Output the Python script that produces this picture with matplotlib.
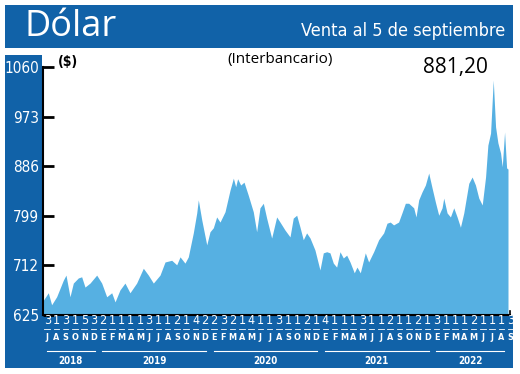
import matplotlib
matplotlib.use("Agg")
import matplotlib.pyplot as plt
from matplotlib.patches import Rectangle
from matplotlib.transforms import blended_transform_factory

# Datos (meses desde 1-jul-2018, $ por dolar)
t_meses = [0.04, 0.57, 0.93, 1.47, 2.19, 2.48, 2.91, 3.27, 3.81, 4.17, 4.53, 5.07,
           5.79, 6.33, 6.87, 7.41, 7.77, 8.30, 8.84, 9.38, 10.10, 10.82, 11.36, 11.90,
           12.62, 13.16, 13.88, 14.42, 14.78, 15.31, 15.67, 16.21, 16.58, 16.75, 17.12,
           17.66, 18.01, 18.37, 18.73, 19.09, 19.63, 20.17, 20.53, 20.78, 20.99, 21.32,
           21.68, 22.14, 22.68, 23.04, 23.40, 23.76, 24.12, 24.66, 25.20, 25.56, 26.10,
           26.64, 26.99, 27.36, 27.72, 28.07, 28.43, 28.80, 29.33, 29.87, 30.23, 30.60,
           30.95, 31.31, 31.67, 32.03, 32.39, 32.75, 33.11, 33.57, 33.86, 34.22, 34.76,
           35.12, 35.66, 36.20, 36.74, 37.10, 37.45, 37.81, 38.35, 38.71, 39.08, 39.44,
           39.98, 40.23, 40.52, 40.88, 41.24, 41.60, 41.96, 42.32, 42.68, 43.04, 43.22,
           43.58, 43.94, 44.30, 44.66, 45.02, 45.38, 45.92, 46.28, 46.64, 47.00, 47.37,
           47.73, 47.98, 48.27, 48.56, 48.81, 49.06, 49.35, 49.53, 49.78, 50.00, 50.15]
dolar = [651, 664, 643, 657, 686, 695, 657, 681, 690, 692, 674, 681,
         695, 681, 657, 664, 648, 669, 681, 664, 681, 707, 695, 681,
         695, 718, 721, 713, 727, 716, 727, 769, 804, 827, 792,
         748, 771, 778, 797, 788, 806, 844, 865, 850, 864, 853,
         858, 835, 806, 771, 813, 821, 795, 760, 797, 788, 774,
         762, 795, 800, 779, 757, 769, 760, 739, 704, 734, 736,
         734, 716, 709, 736, 725, 730, 718, 699, 709, 699, 734,
         718, 736, 757, 769, 786, 788, 783, 788, 804, 821, 821,
         813, 797, 827, 841, 853, 874, 848, 823, 800, 813, 830,
         804, 797, 813, 797, 779, 804, 856, 867, 853, 830, 818,
         867, 923, 944, 1037, 955, 927, 909, 885, 946, 883, 881]

dias = [3, 1, 3, 1, 5, 3,
        2, 1, 1, 1, 1, 3, 1, 1, 2, 1, 4, 2,
        2, 3, 2, 1, 4, 1, 1, 3, 1, 1, 2, 1,
        4, 1, 1, 1, 3, 1, 1, 2, 1, 1, 2, 1,
        3, 1, 1, 1, 2, 1, 1, 1, 3]
letras = list("JASOND") + list("EFMAMJJASOND") * 3 + list("EFMAMJJAS")
anios = ["2018", "2019", "2020", "2021", "2022"]
anio_ini = [0, 6, 18, 30, 42]
anio_fin = [6, 18, 30, 42, 50.15]
yticks = [625, 712, 799, 886, 973, 1060]

azul = "#1162a8"
celeste = "#56b0e2"
cond = dict(family="DejaVu Sans", fontstretch="condensed")

W, H = 520, 374
fig = plt.figure(figsize=(W / 100, H / 100), dpi=100)
fig.patch.set_facecolor("white")


def fx(px):
    return px / W


def fy(py):
    return 1 - py / H


# marco azul: cabecera, columna izquierda, banda inferior
for x0, y1, w, h in [(5, 48, 508, 43), (5, 315, 37, 260), (5, 368, 508, 53)]:
    fig.patches.append(Rectangle((fx(x0), fy(y1)), w / W, h / H, transform=fig.transFigure,
                                 facecolor=azul, edgecolor="none", zorder=-5))

ax = fig.add_axes([fx(43), fy(315), fx(508 - 43), 248 / H])
ax.set_facecolor("none")
ax.fill_between(t_meses, 625, dolar, color=celeste, linewidth=0)
ax.set_xlim(0, 50.15)
ax.set_ylim(625, 1060)
ax.set_yticks(yticks)
ax.set_yticklabels([str(v) for v in yticks], color="white", fontsize=11, **cond)
ax.tick_params(axis="y", direction="in", length=8, width=2, color="black", pad=3)
ax.set_xticks([])
for s in ["top", "right"]:
    ax.spines[s].set_visible(False)
ax.spines["left"].set_linewidth(1.5)
ax.spines["bottom"].set_linewidth(1.5)
ax.spines["bottom"].set_bounds(0, 50.35)
ax.plot([50.35, 50.35], [625, 632], color="black", lw=1.2, clip_on=False)

tr = blended_transform_factory(ax.transData, fig.transFigure)
for i, (d, l) in enumerate(zip(dias, letras)):
    ax.text(i + 0.45, fy(321), str(d), transform=tr, ha="center", va="center",
            color="white", fontsize=9, clip_on=False, **cond)
    ax.plot([i + 0.15, i + 0.75], [fy(329), fy(329)], transform=tr, color="white",
            lw=0.6, clip_on=False)
    ax.text(i + 0.45, fy(338), l, transform=tr, ha="center", va="center",
            color="white", fontsize=6.5, fontweight="bold", clip_on=False, **cond)
for a, x0, x1 in zip(anios, anio_ini, anio_fin):
    ax.plot([x0 + 0.4, x1 - 0.4], [fy(351), fy(351)], transform=tr, color="white",
            lw=0.8, clip_on=False)
    ax.text((x0 + x1) / 2, fy(361), a, transform=tr, ha="center", va="center",
            color="white", fontsize=7, fontweight="bold", clip_on=False, **cond)

fig.text(fx(24), fy(27), "Dólar", color="white", fontsize=26, family="Open Sans",
         va="center", ha="left")
fig.text(fx(505), fy(31), "Venta al 5 de septiembre", color="white", fontsize=13,
         va="center", ha="right", **cond)
fig.text(fx(58), fy(62), "($)", color="black", fontsize=10, fontweight="bold",
         va="center", ha="left", **cond)
fig.text(fx(280), fy(60), "(Interbancario)", color="black", fontsize=11,
         family="Open Sans", va="center", ha="center")
fig.text(fx(455), fy(68), "881,20", color="black", fontsize=15,
         family="Open Sans", va="center", ha="center")

fig.savefig("out.png", dpi=100)
